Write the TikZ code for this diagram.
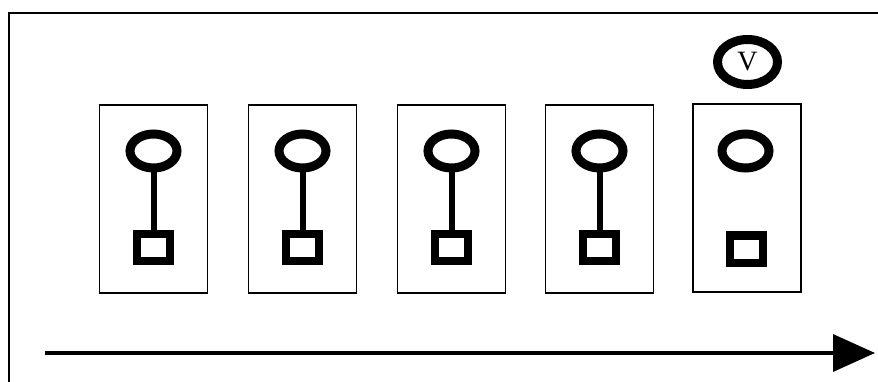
\documentclass[tikz,border=0pt]{standalone}
\usepackage{fontspec}
\setmainfont{Liberation Serif}
\usepackage{tikz}
\usetikzlibrary{arrows.meta,positioning,shapes.geometric}

\begin{document}
\begin{tikzpicture}[x=1pt,y=-1pt,
  cell/.style={draw,line width=1.4pt,minimum width=108pt,minimum height=188pt,inner sep=0pt},
  bulb/.style={draw,ellipse,line width=9pt,minimum width=47pt,minimum height=34pt,inner sep=0pt},
  base/.style={draw,rectangle,line width=8pt,minimum width=33pt,minimum height=27pt,inner sep=0pt},
  stem/.style={line width=6pt},
  vmark/.style={draw,ellipse,line width=9pt,minimum width=60pt,minimum height=45pt,inner sep=0pt,
    font=\fontsize{28}{28}\selectfont}]
  \useasboundingbox (0,0) rectangle (878,382);
  % frame (cut off at right and bottom)
  \draw[line width=2pt] (9,382) -- (9,13) -- (878,13);
  % cells with stems
  \foreach \i/\x in {1/153.5,2/302.5,3/451.5,4/599.5} {
    \node[cell] (c\i) at (\x,199) {};
    \node[bulb] (h\i) at (\x,151) {};
    \node[base] (s\i) at (\x,247.5) {};
    \draw[stem] (h\i.south) -- (s\i.north);
  }
  % last cell, no stem
  \node[cell] (c5) at (747,198) {};
  \node[bulb] (h5) at (745.5,151) {};
  \node[base] (s5) at (746,249) {};
  \node[vmark] (v) at (747.5,62) {V};
  % time axis
  \coordinate (tail) at (45,353);
  \coordinate (tip) at (875,353);
  \draw[line width=3.5pt,-{Triangle[length=42pt,width=37pt]}] (tail) -- (tip);
\end{tikzpicture}
\end{document}
